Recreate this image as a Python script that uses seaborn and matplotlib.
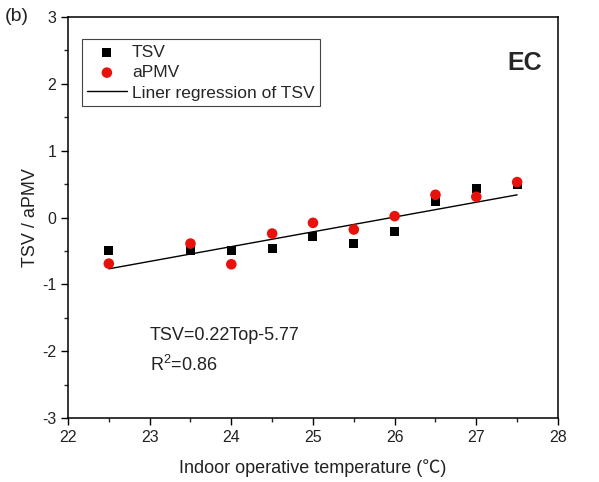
import numpy as np
import pandas as pd
import seaborn as sns
import matplotlib.pyplot as plt
from matplotlib.ticker import MultipleLocator

# indoor operative temperature bins and mean votes
temp = [22.5, 23.5, 24.0, 24.5, 25.0, 25.5, 26.0, 26.5, 27.0, 27.5]
tsv = [-0.50, -0.50, -0.50, -0.47, -0.29, -0.39, -0.21, 0.24, 0.43, 0.49]
apmv = [-0.69, -0.39, -0.70, -0.24, -0.08, -0.18, 0.02, 0.34, 0.31, 0.53]

eq_text = "TSV=0.22Top-5.77"
r2_text = "R$^{2}$=0.86"

sns.set_style("ticks")
plt.rcParams["font.family"] = ["Liberation Sans", "Noto Sans CJK SC", "DejaVu Sans"]
plt.rcParams["mathtext.fontset"] = "custom"
plt.rcParams["mathtext.rm"] = "Liberation Sans"
plt.rcParams["axes.unicode_minus"] = False

df = pd.DataFrame({"temp": temp, "TSV": tsv, "aPMV": apmv})

fig = plt.figure(figsize=(5.99, 4.82), dpi=100)
ax = fig.add_axes([0.1135, 0.1328, 0.818, 0.8319])

sns.scatterplot(data=df, x="temp", y="TSV", marker="s", s=42, color="black",
                edgecolor="none", ax=ax, label="TSV", zorder=3)
sns.scatterplot(data=df, x="temp", y="aPMV", marker="o", s=58, color="#e8120c",
                edgecolor="none", ax=ax, label="aPMV", zorder=4)
sns.regplot(data=df, x="temp", y="TSV", scatter=False, ci=None, truncate=True,
            color="black", line_kws={"lw": 1.0}, ax=ax, label="Liner regression of TSV")

ax.set_xlim(22, 28)
ax.set_ylim(-3, 3)
ax.xaxis.set_major_locator(MultipleLocator(1))
ax.xaxis.set_minor_locator(MultipleLocator(0.5))
ax.yaxis.set_major_locator(MultipleLocator(1))
ax.yaxis.set_minor_locator(MultipleLocator(0.5))
ax.tick_params(which="major", direction="out", length=5, width=1, labelsize=11.5,
               top=False, right=False, color="black", labelcolor="#222222")
ax.tick_params(which="minor", direction="out", length=3, width=1, top=False, right=False)
for sp in ax.spines.values():
    sp.set_color("black")
    sp.set_linewidth(1.1)

ax.set_xlabel("Indoor operative temperature (\u2103)", fontsize=13, color="#222222", labelpad=10)
ax.set_ylabel("TSV / aPMV", fontsize=13, color="#222222", labelpad=2)

leg = ax.legend(loc="upper left", bbox_to_anchor=(0.028, 0.944), fontsize=12.5,
                frameon=True, fancybox=False, edgecolor="#444444", framealpha=1,
                handlelength=2.3, handletextpad=0.3, borderpad=0.3, labelspacing=0.3,
                borderaxespad=0)
leg.get_frame().set_linewidth(0.8)

ax.text(0.967, 0.885, "EC", transform=ax.transAxes, fontsize=18, fontweight="bold",
        ha="right", va="center")
ax.text(23.0, -1.76, eq_text, fontsize=13, va="center", color="#222222")
ax.text(23.0, -2.21, r2_text, fontsize=13, va="center", color="#222222")
fig.text(0.008, 0.966, "(b)", fontsize=14, va="center", color="#222222")

fig.savefig("out.png", dpi=100)
